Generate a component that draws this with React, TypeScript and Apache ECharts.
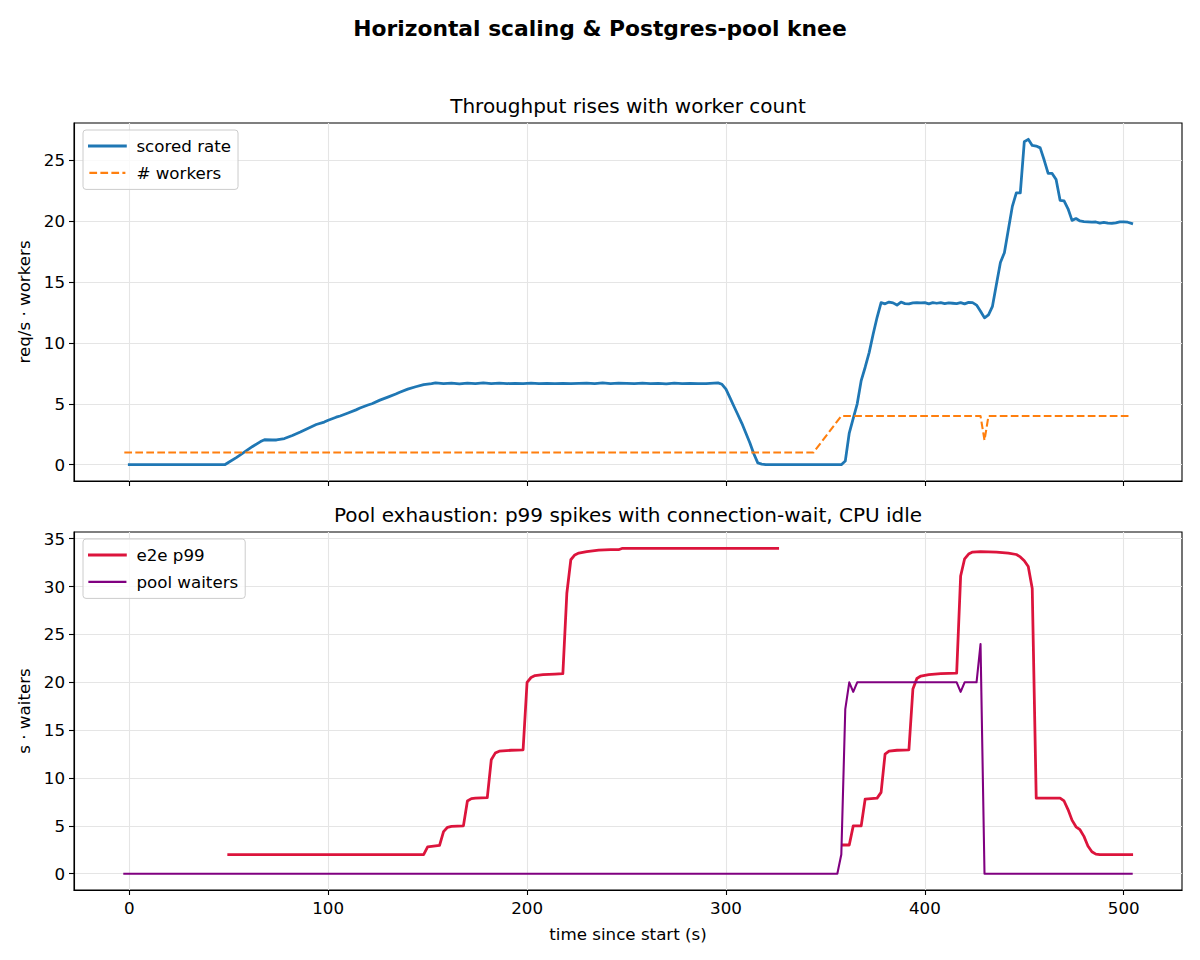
import React, { useEffect, useRef } from "react";
import * as echarts from "echarts";

const FONT = "DejaVu Sans";
const BASE = 16.7;

const xTicks = [0, 100, 200, 300, 400, 500];
const topYTicks = [0, 5, 10, 15, 20, 25];
const bottomYTicks = [0, 5, 10, 15, 20, 25, 30, 35];

const suptitle = "Horizontal scaling & Postgres-pool knee";
const topTitle = "Throughput rises with worker count";
const bottomTitle = "Pool exhaustion: p99 spikes with connection-wait, CPU idle";

// [time (s), req/s]
const scoredRate: [number, number][] = [
  [0, 0], [48, 0], [50, 0.2], [54, 0.6], [58, 1.05], [62, 1.5], [66, 1.9], [68, 2.05],
  [72, 2.03], [74, 2.03], [78, 2.15], [82, 2.4], [86, 2.68], [90, 3.0], [94, 3.3],
  [98, 3.5], [100, 3.65], [104, 3.9], [106, 4.0], [110, 4.25], [114, 4.5], [116, 4.65],
  [120, 4.9], [122, 5.0], [126, 5.3], [130, 5.55], [134, 5.8], [136, 5.95], [140, 6.2],
  [144, 6.4], [148, 6.58], [152, 6.65], [154, 6.72], [158, 6.66], [162, 6.7], [166, 6.64],
  [170, 6.7], [174, 6.66], [178, 6.72], [182, 6.65], [186, 6.7], [190, 6.66], [194, 6.68],
  [198, 6.65], [202, 6.7], [206, 6.66], [210, 6.68], [214, 6.66], [218, 6.68], [222, 6.66],
  [226, 6.68], [230, 6.7], [234, 6.66], [238, 6.72], [242, 6.66], [246, 6.7], [250, 6.68],
  [254, 6.66], [258, 6.7], [262, 6.66], [266, 6.68], [270, 6.64], [274, 6.7], [278, 6.66],
  [282, 6.68], [286, 6.66], [290, 6.66], [294, 6.7], [296, 6.72], [298, 6.6], [300, 6.2],
  [302, 5.5], [304, 4.8], [306, 4.1], [308, 3.4], [310, 2.6], [312, 1.8], [314, 0.9],
  [316, 0.15], [318, 0.05], [320, 0], [358, 0], [360, 0.3], [362, 2.6], [364, 3.8],
  [366, 5.0], [368, 6.9], [370, 8.0], [372, 9.2], [374, 10.7], [376, 12.1], [378, 13.3],
  [380, 13.2], [382, 13.35], [384, 13.28], [386, 13.1], [388, 13.35], [390, 13.22],
  [392, 13.2], [394, 13.28], [396, 13.3], [398, 13.28], [400, 13.3], [402, 13.2],
  [404, 13.3], [406, 13.25], [408, 13.3], [410, 13.22], [412, 13.28], [414, 13.25],
  [416, 13.22], [418, 13.3], [420, 13.2], [422, 13.32], [424, 13.3], [426, 13.1],
  [428, 12.6], [430, 12.05], [432, 12.3], [434, 13.0], [436, 14.8], [438, 16.6],
  [440, 17.4], [442, 19.3], [444, 21.2], [446, 22.3], [448, 22.3], [450, 26.5],
  [452, 26.7], [454, 26.2], [456, 26.15], [458, 26.0], [460, 25.0], [462, 23.9],
  [464, 23.9], [466, 23.4], [468, 21.7], [470, 21.65], [472, 21.0], [474, 20.05],
  [476, 20.2], [478, 20.0], [480, 19.95], [482, 19.93], [484, 19.9], [486, 19.92],
  [488, 19.82], [490, 19.88], [492, 19.82], [494, 19.8], [496, 19.85], [498, 19.93],
  [500, 19.92], [502, 19.9], [504, 19.8],
];

// [time (s), # workers]
const workers: [number, number][] = [
  [-2.5, 1], [344, 1], [358, 4], [428, 4], [430, 2], [432, 4], [504, 4],
];

// [time (s), e2e p99 seconds]; null = no data
const e2eP99: [number, number | null][] = [
  [50, 2], [148, 2], [150, 2.8], [156, 2.95], [158, 4.4], [160, 4.85], [162, 4.95],
  [168, 5.0], [170, 7.6], [172, 7.85], [174, 7.9], [180, 7.95], [182, 11.9], [184, 12.6],
  [186, 12.8], [192, 12.9], [198, 12.95], [200, 20.0], [202, 20.5], [204, 20.7],
  [208, 20.8], [214, 20.85], [218, 20.9], [220, 29.3], [222, 32.8], [224, 33.3],
  [226, 33.5], [230, 33.65], [236, 33.8], [242, 33.85], [246, 33.85], [248, 34.0],
  [326, 34.0], [340, null], [359, 3.0], [362, 3.0], [364, 5.0], [368, 5.0], [370, 7.8],
  [376, 7.9], [378, 8.5], [380, 12.5], [382, 12.8], [386, 12.9], [392, 12.95],
  [394, 19.3], [396, 20.4], [398, 20.65], [402, 20.8], [408, 20.9], [416, 20.95],
  [418, 31.1], [420, 32.9], [422, 33.4], [424, 33.6], [428, 33.65], [436, 33.6],
  [442, 33.5], [446, 33.35], [448, 33.1], [450, 32.7], [452, 32.1], [454, 29.8],
  [456, 7.9], [468, 7.9], [470, 7.6], [472, 6.7], [474, 5.6], [476, 4.9], [478, 4.6],
  [480, 3.9], [482, 2.9], [484, 2.3], [486, 2.05], [488, 2.0], [504, 2.0],
];

// [time (s), pool waiters]
const poolWaiters: [number, number][] = [
  [-2.5, 0], [356, 0], [358, 2], [360, 17.2], [362, 20], [364, 19], [366, 20],
  [416, 20], [418, 19], [420, 20], [426, 20], [428, 24], [430, 0], [504, 0],
];

const X_MIN = -27.8;
const X_MAX = 529.3;

const W_THICK = 2.78;
const W_THIN = 2.08;

function xAxisCfg(gridIndex: number, showLabels: boolean) {
  return {
    type: "value",
    gridIndex,
    min: X_MIN,
    max: X_MAX,
    name: showLabels ? "time since start (s)" : "",
    nameLocation: "middle",
    nameGap: 35,
    nameTextStyle: { fontFamily: FONT, fontSize: BASE, color: "#000" },
    axisLine: { show: true, onZero: false, lineStyle: { color: "#000", width: 1.1 } },
    axisTick: { show: true, customValues: xTicks, length: 5, lineStyle: { color: "#000", width: 1.1 } },
    axisLabel: {
      show: showLabels,
      customValues: xTicks,
      margin: 9,
      color: "#000",
      fontFamily: FONT,
      fontSize: BASE,
    },
    splitLine: { show: true, lineStyle: { color: "#e5e5e5", width: 1.1 } },
  };
}

function yAxisCfg(gridIndex: number, min: number, max: number, ticks: number[], name: string) {
  return {
    type: "value",
    gridIndex,
    min,
    max,
    name,
    nameLocation: "middle",
    nameGap: 42,
    nameTextStyle: { fontFamily: FONT, fontSize: BASE, color: "#000" },
    axisLine: { show: true, onZero: false, lineStyle: { color: "#000", width: 1.1 } },
    axisTick: { show: true, customValues: ticks, length: 5, lineStyle: { color: "#000", width: 1.1 } },
    axisLabel: {
      customValues: ticks,
      margin: 9,
      color: "#000",
      fontFamily: FONT,
      fontSize: BASE,
    },
    splitLine: { show: true, lineStyle: { color: "#e5e5e5", width: 1.1 } },
  };
}

function legendCfg(items: { name: string; width: number }[], top: number) {
  return {
    data: items.map((it) => ({ name: it.name, lineStyle: { width: it.width } })),
    orient: "vertical",
    left: 83,
    top,
    itemWidth: 36,
    itemHeight: 14,
    itemGap: 9.9,
    padding: [7.5, 7, 8, 5],
    backgroundColor: "rgba(255,255,255,0.8)",
    borderColor: "#cccccc",
    borderWidth: 1,
    borderRadius: 3,
    itemStyle: { color: "transparent", borderColor: "transparent", borderWidth: 0, opacity: 0 },
    textStyle: { fontFamily: FONT, fontSize: BASE, color: "#000", padding: [0, 0, 0, 6] },
  };
}

export default function App() {
  const ref = useRef<HTMLDivElement>(null);

  useEffect(() => {
    if (!ref.current) return;
    const chart = echarts.init(ref.current, undefined, { renderer: "svg" });
    const titleStyle = (text: string, size: number, weight: string) => ({
      text,
      fontFamily: FONT,
      fontSize: size,
      fontWeight: weight,
      fill: "#000",
      textAlign: "center",
      textVerticalAlign: "middle",
      align: "center",
      verticalAlign: "middle",
    });
    const option: any = {
      animation: false,
      backgroundColor: "#ffffff",
      textStyle: { fontFamily: FONT },
      graphic: [
        { type: "text", x: 600, y: 28, style: titleStyle(suptitle, 21.8, "bold") },
        { type: "text", x: 628, y: 106, style: titleStyle(topTitle, 20, "normal") },
        { type: "text", x: 628, y: 515, style: titleStyle(bottomTitle, 20, "normal") },
      ],
      grid: [
        { left: 74, top: 123, width: 1108, height: 358, show: true, borderColor: "#000", borderWidth: 1.1, containLabel: false },
        { left: 74, top: 532, width: 1108, height: 358, show: true, borderColor: "#000", borderWidth: 1.1, containLabel: false },
      ],
      xAxis: [xAxisCfg(0, false), xAxisCfg(1, true)],
      yAxis: [
        yAxisCfg(0, -1.335, 28.04, topYTicks, "req/s · workers"),
        yAxisCfg(1, -1.7, 35.7, bottomYTicks, "s · waiters"),
      ],
      legend: [
        legendCfg([{ name: "scored rate", width: W_THICK }, { name: "# workers", width: W_THIN }], 130),
        legendCfg([{ name: "e2e p99", width: W_THICK }, { name: "pool waiters", width: W_THIN }], 539),
      ],
      series: [
        {
          name: "scored rate",
          type: "line",
          xAxisIndex: 0,
          yAxisIndex: 0,
          data: scoredRate,
          symbol: "none",
          showSymbol: false,
          color: "#1f77b4",
          lineStyle: { color: "#1f77b4", width: W_THICK, cap: "square", join: "round" },
          z: 2,
        },
        {
          name: "# workers",
          type: "line",
          xAxisIndex: 0,
          yAxisIndex: 0,
          data: workers,
          symbol: "none",
          showSymbol: false,
          color: "#ff7f0e",
          lineStyle: { color: "#ff7f0e", width: W_THIN, type: [7.7, 3.3], cap: "butt", join: "round" },
          z: 3,
        },
        {
          name: "e2e p99",
          type: "line",
          xAxisIndex: 1,
          yAxisIndex: 1,
          data: e2eP99,
          symbol: "none",
          showSymbol: false,
          connectNulls: false,
          color: "#dc143c",
          lineStyle: { color: "#dc143c", width: W_THICK, cap: "square", join: "round" },
          z: 2,
        },
        {
          name: "pool waiters",
          type: "line",
          xAxisIndex: 1,
          yAxisIndex: 1,
          data: poolWaiters,
          symbol: "none",
          showSymbol: false,
          color: "#800080",
          lineStyle: { color: "#800080", width: W_THIN, cap: "square", join: "round" },
          z: 3,
        },
      ],
    };
    chart.setOption(option);
    return () => chart.dispose();
  }, []);

  return (
    <div
      ref={ref}
      style={{ position: "absolute", left: 0, top: 0, width: 1200, height: 960, background: "#fff" }}
    />
  );
}
